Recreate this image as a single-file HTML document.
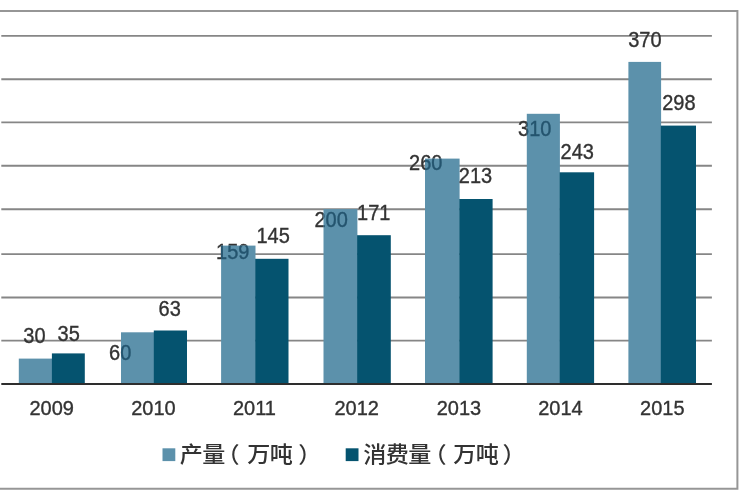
<!DOCTYPE html>
<html lang="zh"><head><meta charset="utf-8"><title>产量与消费量</title>
<style>html,body{margin:0;padding:0;background:#fff}body{width:750px;height:500px;overflow:hidden}svg{display:block}text{font-family:"Liberation Sans","Noto Sans CJK SC",sans-serif;fill:#333333}.n{font-size:20px;text-anchor:middle;stroke:#333;stroke-width:0.35px}.lg{font-size:22px;font-weight:500}.ov text{fill:#24546e;stroke:#24546e}</style></head><body>
<svg width="750" height="500" viewBox="0 0 750 500">
<rect width="750" height="500" fill="#fff"/>
<path d="M0 11.1H737.4V488.8H0" fill="none" stroke="#969696" stroke-width="2"/>
<line x1="1.3" x2="711.9" y1="340.60" y2="340.60" stroke="#868686" stroke-width="1.9"/>
<line x1="1.3" x2="711.9" y1="297.50" y2="297.50" stroke="#868686" stroke-width="1.9"/>
<line x1="1.3" x2="711.9" y1="254.10" y2="254.10" stroke="#868686" stroke-width="1.9"/>
<line x1="1.3" x2="711.9" y1="209.20" y2="209.20" stroke="#868686" stroke-width="1.9"/>
<line x1="1.3" x2="711.9" y1="165.80" y2="165.80" stroke="#868686" stroke-width="1.9"/>
<line x1="1.3" x2="711.9" y1="122.40" y2="122.40" stroke="#868686" stroke-width="1.9"/>
<line x1="1.3" x2="711.9" y1="79.30" y2="79.30" stroke="#868686" stroke-width="1.9"/>
<line x1="1.3" x2="711.9" y1="35.90" y2="35.90" stroke="#868686" stroke-width="1.9"/>
<rect x="18.80" y="358.60" width="33.40" height="25.30" fill="#5c91ab"/>
<rect x="51.90" y="353.40" width="32.90" height="30.50" fill="#05536f"/>
<rect x="121.00" y="332.30" width="33.10" height="51.60" fill="#5c91ab"/>
<rect x="153.80" y="330.50" width="33.20" height="53.40" fill="#05536f"/>
<rect x="221.10" y="245.60" width="34.40" height="138.30" fill="#5c91ab"/>
<rect x="255.20" y="258.80" width="33.30" height="125.10" fill="#05536f"/>
<rect x="323.50" y="209.10" width="33.90" height="174.80" fill="#5c91ab"/>
<rect x="357.10" y="235.20" width="33.70" height="148.70" fill="#05536f"/>
<rect x="425.00" y="158.60" width="34.60" height="225.30" fill="#5c91ab"/>
<rect x="459.30" y="199.00" width="33.30" height="184.90" fill="#05536f"/>
<rect x="526.80" y="113.80" width="33.10" height="270.10" fill="#5c91ab"/>
<rect x="559.60" y="172.30" width="34.50" height="211.60" fill="#05536f"/>
<rect x="628.40" y="61.90" width="32.70" height="322.00" fill="#5c91ab"/>
<rect x="660.80" y="125.60" width="35.20" height="258.30" fill="#05536f"/>
<line x1="1.3" x2="711.9" y1="383.90" y2="383.90" stroke="#2e2e2e" stroke-width="2"/>
<text class="n" transform="translate(51.7,415.1) scale(1,1.035)">2009</text>
<text class="n" transform="translate(153.4,415.1) scale(1,1.035)">2010</text>
<text class="n" transform="translate(254.5,415.1) scale(1,1.035)">2011</text>
<text class="n" transform="translate(356.7,415.1) scale(1,1.035)">2012</text>
<text class="n" transform="translate(458.9,415.1) scale(1,1.035)">2013</text>
<text class="n" transform="translate(560.4,415.1) scale(1,1.035)">2014</text>
<text class="n" transform="translate(662.3,415.1) scale(1,1.035)">2015</text>
<clipPath id="nb"><path clip-rule="evenodd" d="M0 0H750V500H0ZM18.80 358.60H52.20V382.90H18.80ZM121.00 332.30H154.10V382.90H121.00ZM221.10 245.60H255.50V382.90H221.10ZM323.50 209.10H357.40V382.90H323.50ZM425.00 158.60H459.60V382.90H425.00ZM526.80 113.80H559.90V382.90H526.80ZM628.40 61.90H661.10V382.90H628.40Z"/></clipPath>
<text class="n" transform="translate(68.7,340.8) scale(1,1.085)">35</text>
<text class="n" transform="translate(169.7,316.0) scale(1,1.085)">63</text>
<text class="n" transform="translate(273.1,243.4) scale(1,1.085)">145</text>
<text class="n" transform="translate(373.7,220.0) scale(1,1.085)">171</text>
<text class="n" transform="translate(475.5,182.8) scale(1,1.085)">213</text>
<text class="n" transform="translate(577.3,158.8) scale(1,1.085)">243</text>
<text class="n" transform="translate(678.9,110.4) scale(1,1.085)">298</text>
<g clip-path="url(#nb)">
<text class="n" transform="translate(34.4,343.2) scale(1,1.085)">30</text>
<text class="n" transform="translate(120.2,360.4) scale(1,1.085)">60</text>
<text class="n" transform="translate(232.7,258.8) scale(1,1.085)">159</text>
<text class="n" transform="translate(331.1,226.9) scale(1,1.085)">200</text>
<text class="n" transform="translate(425.7,170.1) scale(1,1.085)">260</text>
<text class="n" transform="translate(534.7,136.0) scale(1,1.085)">310</text>
<text class="n" transform="translate(644.9,47.3) scale(1,1.085)">370</text>
</g>
<clipPath id="lb"><path d="M18.80 358.60H52.20V382.90H18.80ZM121.00 332.30H154.10V382.90H121.00ZM221.10 245.60H255.50V382.90H221.10ZM323.50 209.10H357.40V382.90H323.50ZM425.00 158.60H459.60V382.90H425.00ZM526.80 113.80H559.90V382.90H526.80ZM628.40 61.90H661.10V382.90H628.40Z"/></clipPath>
<g clip-path="url(#lb)" class="ov">
<text class="n" transform="translate(34.4,343.2) scale(1,1.085)">30</text>
<text class="n" transform="translate(120.2,360.4) scale(1,1.085)">60</text>
<text class="n" transform="translate(232.7,258.8) scale(1,1.085)">159</text>
<text class="n" transform="translate(331.1,226.9) scale(1,1.085)">200</text>
<text class="n" transform="translate(425.7,170.1) scale(1,1.085)">260</text>
<text class="n" transform="translate(534.7,136.0) scale(1,1.085)">310</text>
<text class="n" transform="translate(644.9,47.3) scale(1,1.085)">370</text>
</g>
<rect x="162.5" y="448.3" width="12.8" height="12.8" fill="#5c91ab"/>
<g transform="translate(179.70,461.90) scale(1.050,1)"><text class="lg" x="0.00 21.43 35.05 64.29 85.71 112.86" y="0">产量（万吨）</text></g>
<rect x="345.7" y="448.3" width="12.8" height="12.8" fill="#05536f"/>
<g transform="translate(363.20,461.90) scale(1.050,1)"><text class="lg" x="0.00 21.43 42.86 57.33 85.71 107.14 132.67" y="0">消费量（万吨）</text></g>
</svg></body></html>
